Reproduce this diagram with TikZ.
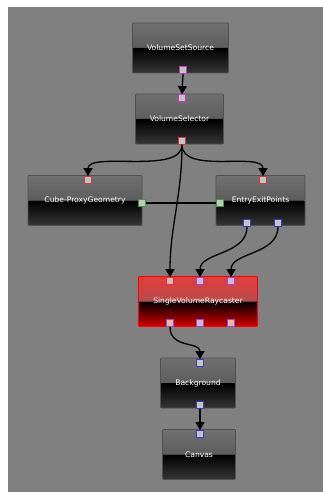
\documentclass[tikz,border=0pt]{standalone}
\usepackage{fontspec}
\setsansfont{DejaVu Sans}
\usetikzlibrary{arrows.meta}
\definecolor{bggray}{HTML}{808080}
\definecolor{procborder}{HTML}{505050}
\definecolor{proctop}{HTML}{707070}
\definecolor{procmid}{HTML}{4A4A4A}
\definecolor{procbot}{HTML}{363636}
\definecolor{redtop}{HTML}{E43C3C}
\definecolor{redmid}{HTML}{8A5A5A}
\definecolor{redbot}{HTML}{D80000}
\definecolor{portfill}{HTML}{C4C4C4}
\definecolor{pinkfill}{HTML}{E8B4B4}
\definecolor{lilacfill}{HTML}{D4B4D8}
\definecolor{pmag}{HTML}{C040C0}
\definecolor{pred}{HTML}{C83C3C}
\definecolor{pgreen}{HTML}{30A030}
\definecolor{pblue}{HTML}{3C3CC0}
\definecolor{ppurple}{HTML}{8C50C8}
\tikzset{
  proc/.style={draw=procborder, line width=0.8pt, rounded corners=1pt,
    minimum height=50pt, inner sep=0pt, text=white,
    font=\sffamily\fontsize{7.6}{9}\selectfont,
    path picture={
      \shade[top color=proctop, bottom color=procmid]
        (path picture bounding box.north west) rectangle (path picture bounding box.east);
      \shade[top color=black, bottom color=procbot]
        (path picture bounding box.west) rectangle (path picture bounding box.south east);
    }},
  redproc/.style={draw=red, line width=0.8pt, rounded corners=1pt,
    minimum height=50pt, inner sep=0pt, text=white,
    font=\sffamily\fontsize{7.6}{9}\selectfont,
    path picture={
      \shade[top color=redtop, bottom color=redmid]
        (path picture bounding box.north west) rectangle (path picture bounding box.east);
      \shade[top color=black, bottom color=redbot]
        (path picture bounding box.west) rectangle (path picture bounding box.south east);
    }},
  port/.style={draw=#1, fill=portfill, line width=0.8pt, minimum size=7pt, inner sep=0pt},
  wire/.style={line width=1.3pt, -{Triangle[width=9pt,length=8pt]}},
  plainwire/.style={line width=1.3pt}
}
\begin{document}
\begin{tikzpicture}[x=1pt,y=1pt]
\useasboundingbox (0,0) rectangle (323,-492);
\fill[white] (0,0) rectangle (323,-492);
\fill[bggray] (8,-7) rectangle (323,-492);

% processors
\node[proc, minimum width=96pt] (vss) at (180.5,-48) {VolumeSetSource};
\node[proc, minimum width=88pt] (vsel) at (179.5,-119) {VolumeSelector};
\node[proc, minimum width=114pt] (cube) at (85,-200.5) {Cube-ProxyGeometry};
\node[proc, minimum width=89pt] (eep) at (260.5,-200.5) {EntryExitPoints};
\node[redproc, minimum width=119pt] (svr) at (198,-301.5) {SingleVolumeRaycaster};
\node[proc, minimum width=75pt] (bg) at (198,-383) {Background};
\node[proc, minimum width=73pt] (cv) at (199,-454.5) {Canvas};

% ports
\node[port=pmag] (vssout) at (183,-70) {};
\node[port=pmag] (vselin) at (182,-98) {};
\node[port=pred] (vselout) at (182,-141) {};
\node[port=pred] (cubein) at (88,-180) {};
\node[port=pgreen] (cubeout) at (142,-203) {};
\node[port=pred] (eepin) at (263,-180) {};
\node[port=pgreen] (eepin2) at (220,-203) {};
\node[port=pblue] (eepout1) at (247,-223) {};
\node[port=pblue] (eepout2) at (278,-223) {};
\node[port=pred, fill=pinkfill] (svrin1) at (170,-281) {};
\node[port=ppurple, fill=lilacfill] (svrin2) at (200,-281) {};
\node[port=ppurple, fill=lilacfill] (svrin3) at (231,-281) {};
\node[port=ppurple, fill=pinkfill] (svrout1) at (170,-323) {};
\node[port=ppurple, fill=lilacfill] (svrout2) at (200,-323) {};
\node[port=ppurple, fill=pinkfill] (svrout3) at (231,-323) {};
\node[port=pblue] (bgin) at (200,-363) {};
\node[port=pblue] (bgout) at (200,-405) {};
\node[port=pblue] (cvin) at (200,-434) {};

% connections
\draw[wire] (vssout.south) -- (vselin.north);
\draw[wire] (vselout.south) .. controls +(0,-30) and +(0,25) .. (cubein.north);
\draw[wire] (vselout.south) .. controls +(0,-30) and +(0,25) .. (eepin.north);
\draw[wire] (vselout.south) .. controls +(0,-50) and +(0,50) .. (svrin1.north);
\draw[plainwire] (cubeout.east) -- (eepin2.west);
\draw[wire] (eepout1.south) .. controls +(0,-28) and +(0,25) .. (svrin2.north);
\draw[wire] (eepout2.south) .. controls +(0,-28) and +(0,25) .. (svrin3.north);
\draw[wire] (svrout1.south) .. controls +(0,-22) and +(0,18) .. (bgin.north);
\draw[wire] (bgout.south) -- (cvin.north);
\end{tikzpicture}
\end{document}
